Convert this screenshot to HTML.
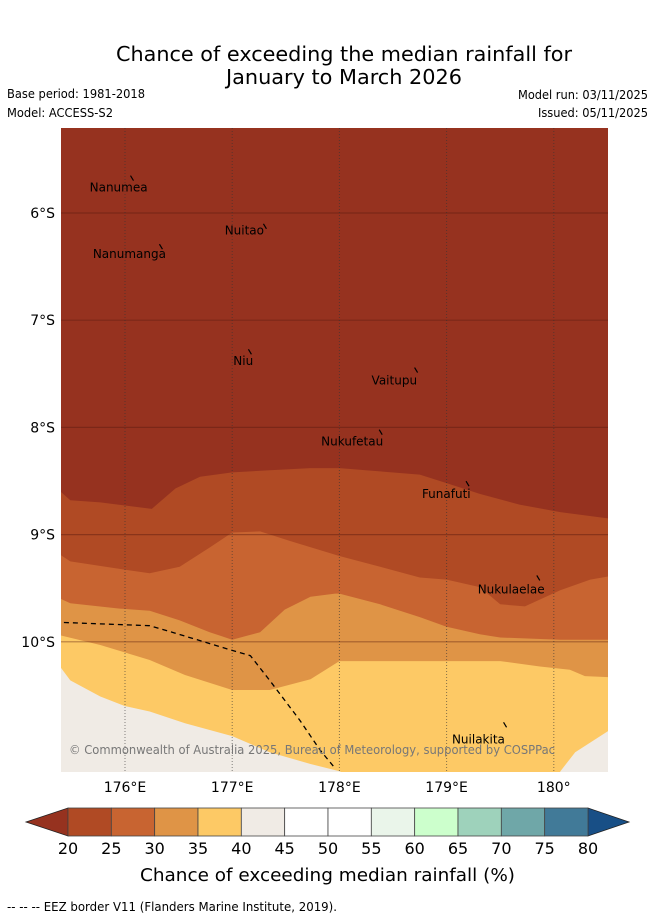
<!DOCTYPE html>
<html><head><meta charset="utf-8">
<style>
html,body{margin:0;padding:0;background:#fff;}
svg{display:block;font-family:"DejaVu Sans","Liberation Sans",sans-serif;}
</style></head>
<body>
<svg id="chart" width="655" height="919" viewBox="0 0 655 919">
<text x="116" y="61" font-size="20" textLength="456" lengthAdjust="spacingAndGlyphs" fill="#000">Chance of exceeding the median rainfall for</text>
<text x="226" y="84" font-size="20" textLength="236" lengthAdjust="spacingAndGlyphs" fill="#000">January to March 2026</text>
<text x="7" y="98" font-size="12" textLength="138" lengthAdjust="spacingAndGlyphs">Base period: 1981-2018</text>
<text x="7" y="117" font-size="12" textLength="106" lengthAdjust="spacingAndGlyphs">Model: ACCESS-S2</text>
<text x="518" y="99" font-size="12" textLength="130" lengthAdjust="spacingAndGlyphs">Model run: 03/11/2025</text>
<text x="538" y="117" font-size="12" textLength="110" lengthAdjust="spacingAndGlyphs">Issued: 05/11/2025</text>
<defs><clipPath id="mapclip"><rect x="61" y="128" width="547" height="644"/></clipPath></defs>
<g id="map" clip-path="url(#mapclip)">
<rect x="61" y="128" width="547" height="644" fill="#96321f"/>
</g>
<g id="axes"></g>
<g id="colorbar"></g>
<text x="140" y="881" font-size="18" textLength="375" lengthAdjust="spacingAndGlyphs">Chance of exceeding median rainfall (%)</text>
<text x="7" y="911" font-size="12" textLength="330" lengthAdjust="spacingAndGlyphs">--  --  -- EEZ border V11 (Flanders Marine Institute, 2019).</text>
</svg>
<script>
// Data (lon in °E, lat in °S)
const lonTicks = [176,177,178,179,180];
const lonTickLabels = ["176°E","177°E","178°E","179°E","180°"];
const latTicks = [6,7,8,9,10];
const latTickLabels = ["6°S","7°S","8°S","9°S","10°S"];
const b20Lon = [175.40,175.49,175.77,176.25,176.47,176.70,177.0,177.35,177.73,178.0,178.38,178.75,179.0,179.31,179.68,180.06,180.51];
const b20Lat = [8.60,8.68,8.70,8.76,8.57,8.46,8.42,8.40,8.38,8.38,8.41,8.44,8.52,8.62,8.72,8.79,8.85];
const b25Lon = [175.40,175.49,175.95,176.23,176.51,176.79,177.0,177.26,177.54,178.0,178.38,178.75,179.0,179.31,179.50,179.73,180.06,180.34,180.51];
const b25Lat = [9.19,9.25,9.32,9.36,9.30,9.12,8.98,8.97,9.06,9.20,9.30,9.40,9.42,9.49,9.65,9.67,9.52,9.42,9.39];
const b30Lon = [175.40,175.49,175.95,176.23,176.51,176.79,177.0,177.26,177.49,177.73,177.96,178.0,178.38,178.75,179.0,179.31,179.50,180.06,180.51];
const b30Lat = [9.60,9.64,9.69,9.71,9.80,9.91,9.98,9.91,9.70,9.58,9.55,9.55,9.65,9.77,9.86,9.93,9.96,9.98,9.98];
const b35Lon = [175.40,175.77,176.23,176.56,177.0,177.35,177.73,178.0,178.57,179.50,179.87,180.15,180.29,180.51];
const b35Lat = [9.94,10.03,10.17,10.31,10.45,10.45,10.35,10.18,10.18,10.18,10.23,10.26,10.32,10.33];
const b40Lon = [175.40,175.49,175.77,176.0,176.23,176.56,177.0,177.35,177.73,178.01];
const b40Lat = [10.24,10.36,10.51,10.60,10.65,10.76,10.88,11.03,11.14,11.21];
const b40RightLon = [180.06,180.20,180.51];
const b40RightLat = [11.21,11.03,10.83];
const eezLon = [175.43,176.23,176.47,177.0,177.17,177.35,177.63,177.82,177.96];
const eezLat = [9.82,9.85,9.92,10.08,10.13,10.36,10.73,11.01,11.18];
const islandNames = ["Nanumea","Nuitao","Nanumanga","Niu","Vaitupu","Nukufetau","Funafuti","Nukulaelae","Nuilakita"];
const islandLon = [176.07,177.31,176.34,177.17,178.72,178.39,179.20,179.86,179.55];
const islandLat = [5.67,6.12,6.31,7.29,7.46,8.04,8.52,9.40,10.77];
const labelLon = [175.67,176.93,175.70,177.01,178.3,177.83,178.77,179.29,179.05];
const labelLat = [5.80,6.20,6.42,7.42,7.60,8.17,8.66,9.55,10.95];
const cbLevels = [20,25,30,35,40,45,50,55,60,65,70,75,80];
const cbColors = ["#b04a24","#c86431","#df9446","#fdc965","#f0ebe5","#ffffff","#ffffff","#eaf5ea","#ccffcc","#9ed2bb","#6fa7a8","#417a98"];
const cbLow = "#96321f", cbHigh = "#184f86";

const NS="http://www.w3.org/2000/svg";
const X = lon => 125 + (lon-176)*107.2;
const Y = lat => 213 + (lat-6)*107.2;
const map = document.getElementById('map');
const axes = document.getElementById('axes');
const cb = document.getElementById('colorbar');
function mk(tag, attrs, parent){const e=document.createElementNS(NS,tag);for(const k in attrs)e.setAttribute(k,attrs[k]);parent.appendChild(e);return e;}
function pts(lons,lats){return lons.map((l,i)=>X(l).toFixed(1)+','+Y(lats[i]).toFixed(1));}

const bands=[[b20Lon,b20Lat,"#b04a24","band-20-25"],[b25Lon,b25Lat,"#c86431","band-25-30"],[b30Lon,b30Lat,"#df9446","band-30-35"],[b35Lon,b35Lat,"#fdc965","band-35-40"]];
bands.forEach(b=>{
  const p=pts(b[0],b[1]);
  p.push(X(b[0][b[0].length-1]).toFixed(1)+',780');p.push(X(b[0][0]).toFixed(1)+',780');
  const el=mk('polygon',{points:p.join(' '),fill:b[2]},map);
  
  
});
{
  const p=pts(b40Lon,b40Lat);p.push(X(b40Lon[b40Lon.length-1]).toFixed(1)+',780');p.push('55,780');
  const el=mk('polygon',{points:p.join(' '),fill:"#f0ebe5"},map);
  
  
  const p2=pts(b40RightLon,b40RightLat);p2.push('615,'+Y(b40RightLat[2]).toFixed(1));p2.push('615,780');p2.push(X(b40RightLon[0]).toFixed(1)+',780');
  const el2=mk('polygon',{points:p2.join(' '),fill:"#f0ebe5"},map);
  
  
}
// gridlines
latTicks.forEach((t,i)=>{
  const g=mk('line',{x1:61,x2:608,y1:Y(t),y2:Y(t),stroke:"#5a1a10","stroke-opacity":"0.45","stroke-width":1.2},map);
  
  
  const tx=mk('text',{x:55,y:Y(t)+5,"text-anchor":"end","font-size":14},axes);
  tx.textContent=latTickLabels[i];
  
  
});
lonTicks.forEach((t,i)=>{
  const g=mk('line',{x1:X(t),x2:X(t),y1:128,y2:772,stroke:"#333","stroke-opacity":"0.6","stroke-width":1,"stroke-dasharray":"1,2"},map);
  
  
  const tx=mk('text',{x:X(t),y:792,"text-anchor":"middle","font-size":14},axes);
  tx.textContent=lonTickLabels[i];
  
  
});
// EEZ
{
  const e=mk('polyline',{points:pts(eezLon,eezLat).join(' '),fill:"none",stroke:"#000","stroke-width":1.3,"stroke-dasharray":"5,4"},map);
  
  
}
// islands
islandNames.forEach((n,i)=>{
  const m=mk('line',{x1:X(islandLon[i])-2,y1:Y(islandLat[i])-2,x2:X(islandLon[i])+1,y2:Y(islandLat[i])+3,stroke:"#000","stroke-width":1.2},map);
  
  
  const t=mk('text',{x:X(labelLon[i]),y:Y(labelLat[i]),"font-size":12,fill:"#000"},map);
  t.textContent=n;
  
  
});
{
  const c=mk('text',{x:69,y:754,"font-size":12,fill:"#777","textLength":486,"lengthAdjust":"spacingAndGlyphs"},map);
  c.textContent="© Commonwealth of Australia 2025, Bureau of Meteorology, supported by COSPPac";
  
  
}
// colorbar
const cbX0=68, cbX1=588, cbY=808, cbH=28;
const segW=(cbX1-cbX0)/cbColors.length;
{
  const l=mk('polygon',{points:`${cbX0},${cbY} ${cbX0},${cbY+cbH} 26,${cbY+cbH/2}`,fill:cbLow,stroke:"#222","stroke-width":0.8},cb);
  
  
  const r=mk('polygon',{points:`${cbX1},${cbY} ${cbX1},${cbY+cbH} 629,${cbY+cbH/2}`,fill:cbHigh,stroke:"#222","stroke-width":0.8},cb);
  
  
}
cbColors.forEach((c,i)=>{
  const s=mk('rect',{x:cbX0+i*segW,y:cbY,width:segW,height:cbH,fill:c,stroke:"#444","stroke-width":0.8},cb);
  
  
});
cbLevels.forEach((v,i)=>{
  const t=mk('text',{x:cbX0+i*segW,y:854,"text-anchor":"middle","font-size":16},cb);
  t.textContent=v;
  
  
});
</script>
</body></html>
